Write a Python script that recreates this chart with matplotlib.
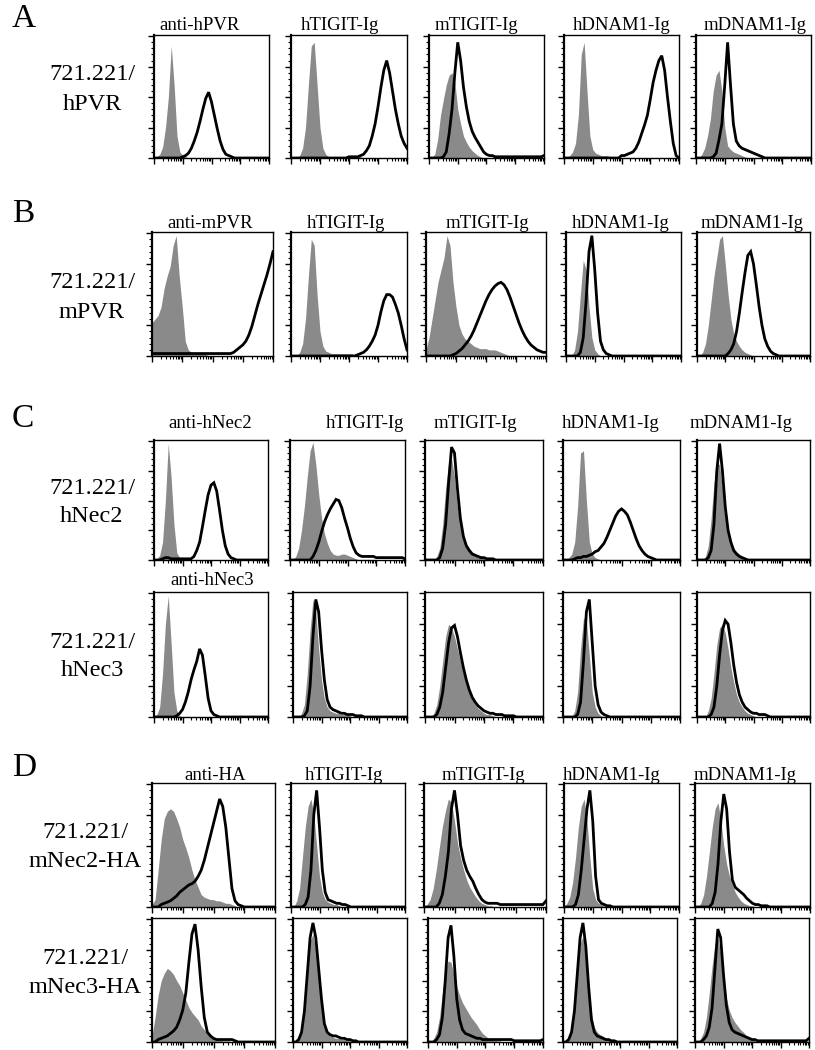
import numpy as np
import matplotlib

matplotlib.use("Agg")
import matplotlib.pyplot as plt
from matplotlib.ticker import AutoMinorLocator, LogLocator, MultipleLocator, NullFormatter

plt.rcParams["font.family"] = ["Liberation Serif", "DejaVu Serif"]

W, H = 815, 1050
GREY = "#8a8a8a"

# histogram heights (% of max) on a log10 grid, 0.1 decade steps:
# each entry is (first log10 value, heights from there on)
LOG_STEP = 0.1
GRID = np.round(np.arange(0, 4.0 + LOG_STEP / 2, LOG_STEP), 1)

STAINS = ["hTIGIT-Ig", "mTIGIT-Ig", "hDNAM1-Ig", "mDNAM1-Ig"]

GREY_A = [
    (0.1, [1, 3, 9, 25, 50, 92, 60, 18, 5, 2, 1]),
    (0.3, [2, 8, 25, 60, 92, 95, 60, 25, 8, 3, 1, 0, 0, 0, 0, 0, 0, 1, 2, 2, 2, 1]),
    (0.1, [1, 3, 15, 35, 48, 60, 68, 70, 62, 40, 28, 18, 13, 9, 6, 4, 2, 1]),
    (0.2, [2, 5, 12, 35, 85, 95, 55, 18, 7, 4, 3, 2, 2, 2, 1]),
    (0.2, [3, 8, 18, 32, 55, 68, 72, 55, 25, 10, 7, 5, 4, 3, 2, 1]),
]
BLACK_A = [
    (1.0, [1, 2, 4, 8, 14, 21, 30, 40, 49, 54, 46, 35, 24, 14, 7, 3, 2, 1]),
    (2.0, [1, 1, 1, 1, 2, 3, 6, 10, 18, 28, 42, 58, 72, 80, 70, 55, 40, 28, 18, 12, 8]),
    (0.5, [1, 5, 20, 40, 70, 95, 80, 58, 42, 30, 22, 17, 13, 9, 5, 3, 2, 2,
           1, 1, 1, 1, 1, 1, 1, 1, 1, 1, 1, 1, 1, 1, 1, 1, 1, 2]),
    (2.0, [2, 2, 3, 4, 5, 8, 13, 20, 27, 35, 48, 62, 72, 80, 84, 72, 50, 30, 12, 2, 0]),
    (0.6, [1, 4, 15, 28, 60, 95, 60, 28, 14, 10, 8, 7, 6, 5, 4, 3, 2, 1]),
]

GREY_B = [
    (0.0, [27, 30, 33, 40, 55, 65, 73, 90, 98, 65, 40, 12, 5, 3, 3, 2, 2, 2, 1]),
    (0.3, [3, 10, 30, 65, 95, 90, 50, 20, 8, 4, 3, 2, 2, 2, 2, 2, 2, 2, 2, 1]),
    (0.0, [5, 15, 30, 45, 60, 70, 80, 98, 90, 60, 40, 25, 18, 14, 12, 10, 8, 7,
           6, 6, 6, 5, 5, 5, 4, 3, 2, 1]),
    (0.3, [5, 20, 50, 78, 70, 40, 15, 5, 2]),
    (0.2, [3, 10, 25, 45, 65, 80, 95, 98, 75, 50, 30, 18, 12, 8, 5, 3, 2, 1]),
]
BLACK_B = [
    (0.0, [2, 2, 2, 2, 2, 2, 2, 2, 2, 2, 2, 2, 2, 2, 2, 2, 2, 2, 2, 2, 2, 2, 2, 2,
           2, 2, 2, 3, 5, 7, 9, 12, 17, 24, 33, 42, 50, 58, 66, 75, 85]),
    (2.3, [1, 2, 3, 5, 8, 12, 17, 25, 36, 45, 50, 50, 48, 42, 35, 25, 14, 5]),
    (0.9, [1, 2, 4, 6, 9, 12, 16, 21, 27, 33, 39, 45, 50, 54, 57, 59, 60, 58,
           54, 48, 41, 34, 27, 21, 16, 12, 9, 7, 5, 4, 3, 3]),
    (0.5, [3, 15, 45, 85, 98, 70, 35, 12, 5, 2, 1]),
    (1.1, [2, 5, 10, 20, 35, 52, 68, 82, 85, 75, 58, 40, 25, 14, 8, 4, 2, 1]),
]

GREY_C1 = [
    (0.1, [1, 4, 15, 50, 98, 70, 30, 6, 2, 1]),
    (0.2, [3, 10, 25, 45, 70, 92, 99, 80, 55, 35, 22, 14, 8, 5, 4, 4, 5, 5, 4, 3, 2, 1]),
    (0.4, [3, 10, 30, 60, 82, 85, 70, 45, 30, 20, 14, 10, 7, 5, 4, 3, 2, 1]),
    (0.2, [2, 5, 15, 45, 90, 92, 50, 15, 5, 2, 1]),
    (0.3, [3, 12, 35, 65, 82, 80, 60, 40, 25, 15, 10, 7, 5, 3, 2, 1]),
]
BLACK_C1 = [
    (0.3, [1, 2, 2, 1, 1, 1, 1, 1, 1, 1, 1, 3, 8, 15, 28, 42, 55, 63, 65, 58,
           42, 25, 12, 5, 2, 1]),
    (0.8, [3, 8, 15, 24, 32, 38, 43, 47, 51, 50, 44, 35, 27, 18, 11, 6, 4, 3,
           3, 3, 3, 3, 2, 2, 2, 2, 2, 2, 2, 2, 2, 2, 1]),
    (0.5, [2, 10, 30, 65, 95, 90, 60, 35, 20, 12, 8, 5, 4, 3, 2, 2, 1, 1, 1]),
    (0.4, [1, 2, 2, 3, 3, 4, 5, 7, 8, 11, 14, 19, 25, 31, 37, 41, 43, 41, 38,
           32, 25, 18, 12, 8, 5, 3, 2, 1]),
    (0.4, [2, 8, 30, 75, 98, 75, 45, 25, 15, 8, 5, 3, 2, 1]),
]

GREY_C2 = [
    (0.1, [2, 8, 35, 75, 98, 60, 20, 5, 1]),
    (0.3, [3, 10, 35, 70, 95, 85, 55, 30, 15, 8, 5, 4, 3, 3, 2, 2, 2, 1]),
    (0.3, [3, 10, 25, 45, 65, 75, 72, 65, 55, 45, 35, 27, 20, 14, 10, 7, 5, 3, 2, 2, 1]),
    (0.4, [5, 20, 55, 80, 78, 50, 20, 8, 3, 1]),
    (0.4, [5, 15, 35, 58, 72, 75, 68, 55, 40, 28, 18, 12, 8, 5, 3, 2, 1]),
]
BLACK_C2 = [
    (0.8, [1, 3, 6, 12, 20, 30, 38, 45, 55, 50, 33, 15, 5, 2, 1]),
    (0.4, [1, 5, 25, 65, 95, 85, 55, 30, 14, 8, 6, 5, 4, 3, 3, 2, 2, 2, 1, 1, 1]),
    (0.4, [2, 8, 20, 40, 60, 72, 74, 65, 52, 40, 30, 22, 16, 12, 9, 7, 5, 4, 3,
           3, 2, 2, 2, 1, 1, 1, 1]),
    (0.5, [2, 12, 45, 85, 95, 60, 25, 10, 4, 2, 1]),
    (0.5, [2, 8, 25, 50, 70, 78, 75, 60, 42, 28, 18, 12, 8, 6, 4, 3, 3, 2, 2, 2, 1]),
]

GREY_D1 = [
    (0.0, [2, 6, 30, 55, 72, 78, 80, 78, 72, 65, 55, 48, 40, 30, 22, 16, 10, 8,
           7, 6, 6, 5, 5, 4, 3, 3, 2, 1]),
    (0.2, [5, 15, 40, 65, 82, 88, 75, 50, 25, 12, 6, 4, 3, 2, 2, 1]),
    (0.1, [2, 6, 15, 30, 48, 65, 78, 88, 85, 70, 52, 40, 30, 22, 16, 12, 8, 5, 3, 2, 1, 1]),
    (0.1, [3, 8, 20, 40, 65, 82, 88, 70, 40, 15, 6, 3, 2, 1, 1]),
    (0.2, [3, 10, 25, 45, 65, 80, 85, 70, 50, 35, 25, 18, 12, 8, 5, 3, 2, 1, 1]),
]
BLACK_D1 = [
    (0.3, [2, 3, 4, 5, 7, 9, 12, 14, 16, 18, 19, 21, 25, 30, 38, 48, 58, 68, 78,
           88, 82, 65, 40, 15, 5, 2, 1]),
    (0.5, [2, 8, 30, 75, 95, 65, 30, 12, 6, 5, 4, 3, 3, 2, 2, 1]),
    (0.5, [3, 10, 25, 45, 80, 95, 75, 50, 38, 30, 25, 21, 15, 10, 6, 4, 3, 3, 3,
           3, 2, 2, 2, 2, 2, 2, 2, 2, 2, 2, 2, 2, 2, 2, 2, 5]),
    (0.4, [2, 10, 30, 55, 80, 95, 70, 25, 6, 3, 2, 1, 1]),
    (0.6, [3, 12, 35, 70, 92, 80, 45, 22, 16, 14, 12, 10, 7, 5, 3, 2, 2, 1, 1, 1]),
]

GREY_D2 = [
    (0.0, [5, 20, 38, 50, 56, 60, 58, 55, 50, 46, 40, 34, 28, 24, 21, 18, 13,
           10, 7, 5, 3, 2, 2, 1, 1, 1]),
    (0.2, [4, 12, 35, 62, 82, 88, 75, 50, 28, 14, 8, 5, 4, 3, 3, 2, 2, 1, 1]),
    (0.2, [3, 8, 20, 40, 58, 66, 65, 55, 45, 38, 32, 28, 24, 20, 17, 14, 10, 7, 5, 3, 2, 2, 1, 1]),
    (0.2, [4, 12, 32, 60, 80, 86, 70, 45, 22, 12, 8, 6, 5, 3, 2, 1]),
    (0.2, [3, 8, 20, 40, 62, 80, 85, 72, 52, 36, 26, 20, 16, 13, 10, 8, 5, 3, 2, 1, 1]),
]
BLACK_D2 = [
    (0.2, [2, 3, 4, 5, 7, 9, 12, 18, 26, 40, 65, 88, 96, 75, 45, 20, 8, 5, 3,
           2, 2, 2, 2, 2, 2, 1]),
    (0.2, [2, 8, 25, 55, 85, 97, 85, 60, 35, 15, 8, 6, 5, 5, 4, 3, 3, 2, 2, 1, 1]),
    (0.3, [2, 6, 20, 50, 85, 95, 70, 35, 18, 10, 7, 6, 5, 4, 3, 3, 2, 2, 2, 2,
           2, 2, 2, 2, 2, 2, 2, 1, 1, 1, 1, 1, 1, 1, 1, 1, 1, 2]),
    (0.2, [2, 8, 25, 55, 85, 97, 78, 45, 18, 8, 5, 4, 3, 2, 2, 1, 1]),
    (0.3, [2, 5, 12, 28, 60, 92, 85, 55, 30, 16, 10, 8, 7, 6, 5, 4, 3, 2, 2, 1,
           1, 1, 1, 1, 1, 1, 1, 1, 1, 1, 1, 1, 1, 1, 1, 1, 1, 3]),
]

# layout in pixels: box top/bottom, column edges, titles
ROWS = [
    dict(top=35, bottom=158, grey=GREY_A, black=BLACK_A,
         cols=[(154, 269), (291, 407), (429, 544), (564, 679), (696, 811)],
         titles=["anti-hPVR"] + STAINS, title_y=30,
         title_x=[200, 340, 476, 622, 755],
         label=["721.221/", "hPVR"], label_x=92, label_y=[80, 110]),
    dict(top=232, bottom=356, grey=GREY_B, black=BLACK_B,
         cols=[(152, 273), (291, 407), (426, 546), (566, 681), (697, 810)],
         titles=["anti-mPVR"] + STAINS, title_y=228,
         title_x=[210, 346, 487, 621, 752],
         label=["721.221/", "mPVR"], label_x=92, label_y=[288, 318]),
    dict(top=440, bottom=560, grey=GREY_C1, black=BLACK_C1,
         cols=[(154, 268), (290, 405), (425, 543), (563, 680), (697, 810)],
         titles=["anti-hNec2"] + STAINS, title_y=428,
         title_x=[210, 365, 475, 611, 741],
         label=["721.221/", "hNec2"], label_x=92, label_y=[494, 522]),
    dict(top=592, bottom=717, grey=GREY_C2, black=BLACK_C2,
         cols=[(154, 268), (293, 407), (425, 543), (563, 680), (697, 810)],
         titles=["anti-hNec3"], title_y=585, title_x=[212],
         label=["721.221/", "hNec3"], label_x=92, label_y=[648, 676]),
    dict(top=783, bottom=907, grey=GREY_D1, black=BLACK_D1,
         cols=[(152, 275), (291, 405), (424, 546), (564, 679), (695, 810)],
         titles=["anti-HA"] + STAINS, title_y=780,
         title_x=[215, 344, 483, 612, 745],
         label=["721.221/", "mNec2-HA"], label_x=85, label_y=[838, 867]),
    dict(top=918, bottom=1042, grey=GREY_D2, black=BLACK_D2,
         cols=[(152, 275), (293, 407), (428, 543), (563, 677), (695, 809)],
         titles=[], title_y=0, title_x=[],
         label=["721.221/", "mNec3-HA"], label_x=85, label_y=[964, 993]),
]

LETTERS = [("A", 27), ("B", 222), ("C", 427), ("D", 776)]


def heights(entry):
    start, vals = entry
    y = np.zeros(len(GRID))
    i0 = int(round(start / LOG_STEP))
    y[i0:i0 + len(vals)] = vals
    return y


def style_axes(ax):
    ax.set_xscale("log")
    ax.set_xlim(1, 1e4)
    ax.set_ylim(0, 101)
    ax.xaxis.set_major_locator(LogLocator(base=10, numticks=10))
    ax.xaxis.set_minor_locator(LogLocator(base=10, subs=np.arange(2, 10), numticks=20))
    ax.yaxis.set_major_locator(MultipleLocator(25))
    ax.yaxis.set_minor_locator(AutoMinorLocator(5))
    ax.xaxis.set_major_formatter(NullFormatter())
    ax.xaxis.set_minor_formatter(NullFormatter())
    ax.yaxis.set_major_formatter(NullFormatter())
    ax.tick_params(which="major", direction="out", length=4.5, width=1.0,
                   top=False, right=False)
    ax.tick_params(which="minor", direction="out", length=2.5, width=0.8,
                   top=False, right=False)
    for side in ("top", "right", "bottom"):
        ax.spines[side].set_linewidth(1.0)
    ax.spines["left"].set_linewidth(1.6)


fig = plt.figure(figsize=(W / 100, H / 100), dpi=100)
x = 10 ** GRID

for row in ROWS:
    h = row["bottom"] - row["top"]
    for (left, right), g, b in zip(row["cols"], row["grey"], row["black"]):
        ax = fig.add_axes([left / W, 1 - row["bottom"] / H, (right - left) / W, h / H])
        ax.fill_between(x, heights(g), 0, color=GREY, lw=0, zorder=1)
        ax.plot(x, heights(b), color="black", lw=2.0, zorder=2,
                solid_joinstyle="miter")
        style_axes(ax)
    for title, tx in zip(row["titles"], row["title_x"]):
        fig.text(tx / W, 1 - row["title_y"] / H, title, ha="center",
                 va="baseline", fontsize=13.5)
    for line, ly in zip(row["label"], row["label_y"]):
        fig.text(row["label_x"] / W, 1 - ly / H, line, ha="center",
                 va="baseline", fontsize=17.5)

for letter, ly in LETTERS:
    fig.text(12 / W, 1 - ly / H, letter, ha="left", va="baseline", fontsize=24)

fig.savefig("out.png", dpi=100)
